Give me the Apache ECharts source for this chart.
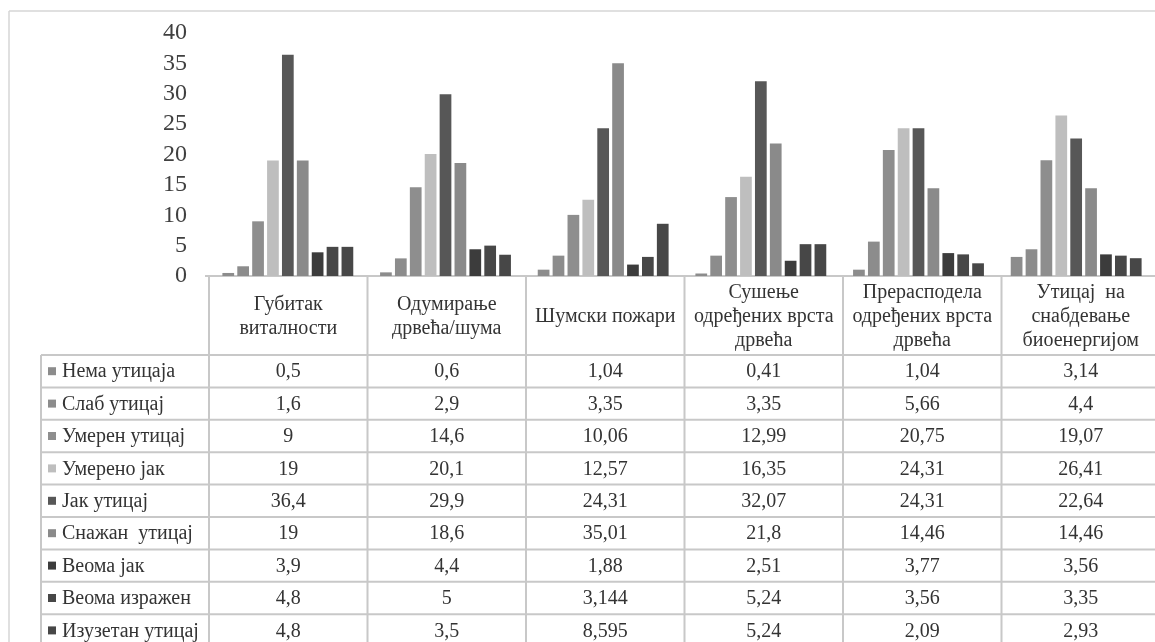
<!DOCTYPE html>
<html>
<head>
<meta charset="utf-8">
<script src="https://cdn.jsdelivr.net/npm/echarts@6/dist/echarts.min.js"></script>
<style>
html,body{margin:0;padding:0;background:#fff;overflow:hidden;}
#c{width:1155px;height:642px;}
</style>
</head>
<body>
<div id="c"></div>
<script>
// ---- data ----
var categories = [
  'Губитак\nвиталности',
  'Одумирање\nдрвећа/шума',
  'Шумски пожари',
  'Сушење\nодређених врста\nдрвећа',
  'Прерасподела\nодређених врста\nдрвећа',
  'Утицај  на\nснабдевање\nбиоенергијом'
];
var seriesNames = [
  'Нема утицаја', 'Слаб утицај', 'Умерен утицај', 'Умерено јак', 'Јак утицај',
  'Снажан  утицај', 'Веома јак', 'Веома изражен', 'Изузетан утицај'
];
var nemaUticaja    = [0.5, 0.6, 1.04, 0.41, 1.04, 3.14];
var slabUticaj     = [1.6, 2.9, 3.35, 3.35, 5.66, 4.4];
var umerenUticaj   = [9, 14.6, 10.06, 12.99, 20.75, 19.07];
var umerenoJak     = [19, 20.1, 12.57, 16.35, 24.31, 26.41];
var jakUticaj      = [36.4, 29.9, 24.31, 32.07, 24.31, 22.64];
var snazanUticaj   = [19, 18.6, 35.01, 21.8, 14.46, 14.46];
var veomaJak       = [3.9, 4.4, 1.88, 2.51, 3.77, 3.56];
var veomaIzrazen   = [4.8, 5, 3.144, 5.24, 3.56, 3.35];
var izuzetanUticaj = [4.8, 3.5, 8.595, 5.24, 2.09, 2.93];
var yTicks = [0, 5, 10, 15, 20, 25, 30, 35, 40];

var seriesValues = [nemaUticaja, slabUticaj, umerenUticaj, umerenoJak, jakUticaj,
  snazanUticaj, veomaJak, veomaIzrazen, izuzetanUticaj];
var colors = ['#8c8c8c', '#8c8c8c', '#8e8e8e', '#bebebe', '#575757',
  '#8a8a8a', '#3c3c3c', '#474747', '#474747'];

// ---- layout ----
var FONT = 'Liberation Serif';
var gridLeft = 209, gridTop = 33, gridHeight = 243, gridWidth = 951;
var colW = gridWidth / categories.length;
var axisY = gridTop + gridHeight;
var headerBottom = 355;
var rowH = 32.4;
var legendLeft = 41;
var lineColor = '#c8c8c8';
var textColor = '#333333';
var tableFontSize = 20;

function fmt(v) { return String(v).replace('.', ','); }
function txt(x, y, text, align, lh) {
  return { type: 'text', x: x, y: y, silent: true,
    style: { text: text, font: tableFontSize + 'px ' + FONT, fill: textColor,
      align: align, verticalAlign: 'middle', lineHeight: lh || tableFontSize } };
}

var graphics = [];
// outer chart border
graphics.push({ type: 'line', shape: { x1: 9, y1: 11, x2: 1155, y2: 11 },
  style: { stroke: '#d6d6d6', lineWidth: 1.5 }, silent: true, z: 0 });
graphics.push({ type: 'line', shape: { x1: 9, y1: 11, x2: 9, y2: 642 },
  style: { stroke: '#d6d6d6', lineWidth: 1.5 }, silent: true, z: 0 });

// header row
for (var c = 0; c < categories.length; c++) {
  var x = gridLeft + c * colW;
  graphics.push({ type: 'line', shape: { x1: x, y1: axisY, x2: x, y2: 642 },
    style: { stroke: lineColor, lineWidth: 2 }, silent: true });
}
for (var c2 = 0; c2 < categories.length; c2++) {
  graphics.push(txt(gridLeft + (c2 + 0.5) * colW, (axisY + headerBottom) / 2 + 1, categories[c2], 'center', 24));
}
graphics.push({ type: 'line', shape: { x1: gridLeft - 4, y1: axisY, x2: 1155, y2: axisY },
  style: { stroke: lineColor, lineWidth: 2 }, silent: true });
// left border of legend column
graphics.push({ type: 'line', shape: { x1: legendLeft, y1: headerBottom, x2: legendLeft, y2: 642 },
  style: { stroke: lineColor, lineWidth: 2 }, silent: true });
// rows
for (var r = 0; r < seriesNames.length; r++) {
  var y = headerBottom + r * rowH;
  graphics.push({ type: 'line', shape: { x1: legendLeft, y1: y, x2: 1155, y2: y },
    style: { stroke: lineColor, lineWidth: 2 }, silent: true });
}
for (var s = 0; s < seriesNames.length; s++) {
  var cy = headerBottom + (s + 0.5) * rowH;
  graphics.push({ type: 'rect', shape: { x: 48, y: cy - 4, width: 8, height: 8 },
    style: { fill: colors[s] }, silent: true });
  graphics.push(txt(62, cy + 1, seriesNames[s], 'left'));
  for (var k = 0; k < categories.length; k++) {
    graphics.push(txt(gridLeft + (k + 0.5) * colW, cy + 1, fmt(seriesValues[s][k]), 'center'));
  }
}

var series = seriesNames.map(function (n, i) {
  return {
    name: n, type: 'bar', data: seriesValues[i],
    barGap: '27%', barCategoryGap: '17%',
    itemStyle: { color: colors[i] },
    silent: true
  };
});

var chart = echarts.init(document.getElementById('c'), null, { renderer: 'canvas' });
chart.setOption({
  animation: false,
  backgroundColor: '#ffffff',
  textStyle: { fontFamily: FONT },
  grid: { left: gridLeft, top: gridTop, height: gridHeight, width: gridWidth, containLabel: false },
  xAxis: {
    type: 'category', data: categories,
    axisLine: { show: false }, axisTick: { show: false }, axisLabel: { show: false },
    splitLine: { show: false }
  },
  yAxis: {
    type: 'value', min: yTicks[0], max: yTicks[yTicks.length - 1], interval: yTicks[1] - yTicks[0],
    axisLine: { show: false }, axisTick: { show: false }, splitLine: { show: false },
    axisLabel: { fontFamily: FONT, fontSize: 24, color: '#404040', margin: 22 }
  },
  series: series,
  graphic: { elements: graphics }
});
</script>
</body>
</html>
